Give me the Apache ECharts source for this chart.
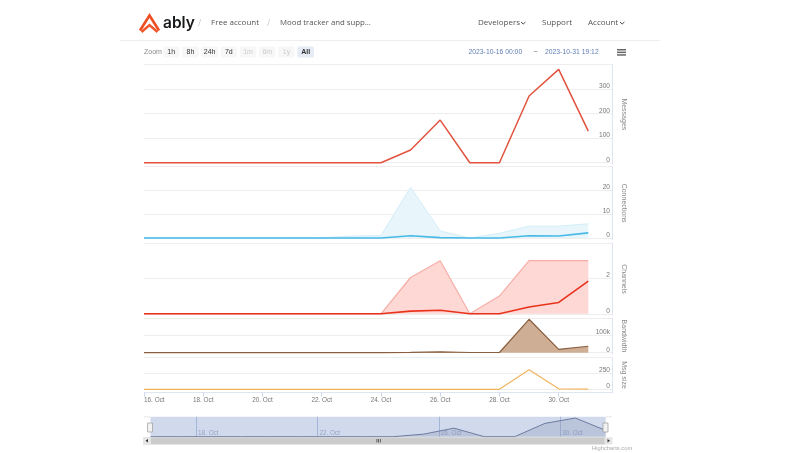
<!DOCTYPE html>
<html><head><meta charset="utf-8">
<style>html,body{margin:0;padding:0;background:#fff}#c{width:806px;height:453px}</style>
<script src="https://cdn.jsdelivr.net/npm/echarts@6/dist/echarts.min.js"></script>
</head><body><div id="c"></div>
<script>
const dayNumbers = [16,17,18,19,20,21,22,23,24,25,26,27,28,29,30,31];
const messages   = [0,0,0,0,0,0,0,0,0,52,174,0,0,272,381,129];
const connHigh   = [0,0,0,0,0,0,0.2,0.8,1.1,21.3,3,0,2,5,5,6];
const connAvg    = [0,0,0,0,0,0,0,0,0,1,0.2,0,0,1,0.9,2.2];
const chanHigh   = [0,0,0,0,0,0,0,0,0,2.05,3,0,1,3,3,3];
const chanAvg    = [0,0,0,0,0,0,0,0,0,0.15,0.2,0,0,0.38,0.64,1.85];
const bandwidth  = [0,0,0,0,0,0,0,0,500,2000,5000,1000,1000,192000,19500,37000];
const msgSize    = [0,0,0,0,0,0,0,0,0,0,0,0,0,306,8,4];
const axisDays   = [16,18,20,22,24,26,28,30];
const navDays    = [18,22,26,30];
const rangeButtons = ['1h','8h','24h','7d','1m','6m','1y','All'];
const disabledButtons = ['1m','6m','1y'];
const panelNames = ['Messages','Connections','Channels','Bandwidth','Msg size'];

const oct = (d,h=0,m=0)=> new Date(2023,9,d,h,m).getTime();
const xs = dayNumbers.map(d=>oct(d));
const pts = a => a.map((v,i)=>[xs[i],v]);
const navPts = messages.map((v,i)=>[oct(dayNumbers[i],12),v]);

const L=144,W=468,FONT='"Liberation Sans"',UI='"Open Sans"';
const panels=[
 {top:64.7,bottom:164,min:-5.3,max:400,ticks:[0,100,200,300,400],labels:[0,100,200,300]},
 {top:166.7,bottom:239.5,min:-0.6,max:30,ticks:[0,10,20,30],labels:[0,10,20]},
 {top:243,bottom:315,min:-0.07,max:4,ticks:[0,2,4],labels:[0,2]},
 {top:317.9,bottom:354,min:-7500,max:200000,ticks:[0,100000,200000],labels:[0,100000]},
 {top:357.3,bottom:392.7,min:-53,max:500,ticks:[0,250,500],labels:[0,250]}
];
const fmtY=v=>v>=1000?(v/1000)+'k':String(v);
const fmtDay=v=>new Date(v).getDate()+'. Oct';
const grid=panels.map(p=>({left:L,width:W,top:p.top,height:p.bottom-p.top}));
grid.push({left:L,width:W,top:416.7,height:20});
const xMin=oct(16),xMax=oct(31,19,12);
const xAxis=panels.map((p,i)=>{
  const last=i===panels.length-1;
  return {type:'value',gridIndex:i,min:xMin,max:xMax,
    axisLine:{show:last,onZero:false,lineStyle:{color:'#dfe6f2',width:1}},
    axisTick:{show:last,length:4,lineStyle:{color:'#ccd6eb'},customValues:axisDays.map(d=>oct(d))},
    splitLine:{show:false},
    axisLabel:{show:last,customValues:axisDays.map(d=>oct(d)),alignMinLabel:'left',margin:5,
      fontFamily:FONT,fontSize:6.4,color:'#777',formatter:fmtDay}};
});
xAxis.push({type:'value',gridIndex:5,min:oct(16,6,53),max:oct(31,17,0),
  axisLine:{show:false,onZero:false},
  axisTick:{show:false,customValues:navDays.map(d=>oct(d))},
  splitLine:{show:true,lineStyle:{color:'#c0cbe0',width:1}},
  axisLabel:{inside:true,customValues:navDays.map(d=>oct(d)),align:'left',margin:0,padding:[0,0,0,2],
    fontFamily:FONT,fontSize:6.4,color:'#a8b2c8',formatter:fmtDay}});
const yAxis=panels.map((p,i)=>({type:'value',gridIndex:i,position:'right',min:p.min,max:p.max,
  name:panelNames[i],nameLocation:'middle',nameRotate:-90,nameGap:5,
  nameTextStyle:{fontFamily:FONT,fontSize:7,color:'#8a8a8a'},
  axisLine:{show:true,onZero:false,lineStyle:{color:'#dfe6f2',width:1}},
  axisTick:{show:false,customValues:p.ticks},
  splitLine:{show:true,lineStyle:{color:'#eeeeee',width:1}},
  axisLabel:{inside:true,customValues:p.labels,margin:2,verticalAlign:'bottom',lineHeight:6,
    fontFamily:FONT,fontSize:6.6,color:'#777',formatter:fmtY}}));
yAxis.push({type:'value',gridIndex:5,min:0,max:408,show:false});

const line=(name,data,i,color,width,extra={})=>Object.assign({name,type:'line',data:pts(data),xAxisIndex:i,yAxisIndex:i,
  showSymbol:false,clip:false,silent:true,lineStyle:{color,width},itemStyle:{color}},extra);
const series=[
 line('Messages',messages,0,'#e2533f',1.5),
 line('Connections range',connHigh,1,'#d2eefa',1,{areaStyle:{color:'#e8f6fc',opacity:1}}),
 line('Connections',connAvg,1,'#47b9e6',1.6),
 line('Channels range',chanHigh,2,'#f6aea6',1.2,{areaStyle:{color:'#fdd8d4',opacity:1}}),
 line('Channels',chanAvg,2,'#e9321c',1.6),
 line('Bandwidth',bandwidth,3,'#8b5f3d',1.2,{areaStyle:{color:'#ceae95',opacity:1}}),
 line('Msg size',msgSize,4,'#f1b45c',1.2),
 {name:'Navigator',type:'line',data:navPts,xAxisIndex:5,yAxisIndex:5,showSymbol:false,silent:true,clip:false,
  lineStyle:{color:'#6d7c9e',width:1},itemStyle:{color:'#6d7c9e'},areaStyle:{color:'#8593b3',opacity:.3},
  markArea:{silent:true,itemStyle:{color:'rgba(102,133,194,0.3)'},
    data:[[{xAxis:oct(16,12)},{xAxis:oct(31,12)}]]}}
];

const txt=(text,x,y,o={})=>({type:'text',x,y,silent:true,z:10,style:Object.assign({text,fill:'#555',fontFamily:UI,fontSize:8,verticalAlign:'middle'},o)});
const rect=(x,y,w,h,fill,o={})=>({type:'rect',silent:true,z:o.z||5,shape:{x,y,width:w,height:h,r:o.r||0},style:{fill,stroke:o.stroke||null,lineWidth:o.lw||1}});
const poly=(points,stroke,lw,z=6)=>({type:'polyline',silent:true,z,shape:{points},style:{stroke,lineWidth:lw,fill:null,lineJoin:'miter'}});
const chev=(x,y)=>poly([[x,y],[x+2.2,y+2],[x+4.4,y]],'#444',1);
const g=[
 rect(120,40,540,1,'#eeeeee'),
 poly([[140,30.5],[149.5,15.5],[159,30.5]],'#ef4e23',2.6),
 poly([[141.5,32],[149.5,25],[157.5,32]],'#f0562a',2.4),
 txt('ably',163,23.5,{fontSize:15.5,fontWeight:600,fill:'#17181a',fontFamily:'Inter'}),
 txt('/',198,23,{fill:'#cccccc',fontSize:9}),
 txt('Free account',211,23),
 txt('/',267,23,{fill:'#cccccc',fontSize:9}),
 txt('Mood tracker and supp…',280,23,{fontSize:7.8}),
 txt('Developers',478,23),chev(521,22),
 txt('Support',542,23),
 txt('Account',588,23),chev(620,22),
 txt('Zoom',144,52,{fontSize:7,fill:'#8a8a8a',fontFamily:FONT}),
 txt('2023-10-16 00:00',468.5,52,{fontSize:6.8,fill:'#5f7db5',fontFamily:FONT}),
 txt('~',533.5,52,{fontSize:7,fill:'#666',fontFamily:FONT}),
 txt('2023-10-31 19:12',545,52,{fontSize:6.8,fill:'#5f7db5',fontFamily:FONT}),
 rect(617,49,9,1.5,'#666'),rect(617,51.6,9,1.5,'#666'),rect(617,54.2,9,1.5,'#666'),
 rect(144,416.5,6,.8,'#ddd'),rect(606,416.5,6,.8,'#ddd'),
 rect(147.5,423,5,9,'#f2f2f2',{stroke:'#999',lw:.7,z:7}),
 rect(603,423,5,9,'#f2f2f2',{stroke:'#999',lw:.7,z:7}),
 rect(143,437.2,462,7.3,'#cccccc'),
 rect(143,437.2,8,7.3,'#e6e6e6',{z:6}),
 rect(604.5,437.2,8,7.3,'#e6e6e6',{z:6}),
 {type:'polygon',silent:true,z:7,shape:{points:[[148,439],[148,442.5],[145.5,440.7]]},style:{fill:'#333'}},
 {type:'polygon',silent:true,z:7,shape:{points:[[607.5,439],[607.5,442.5],[610,440.7]]},style:{fill:'#333'}},
 rect(376.5,439,.8,3.5,'#444',{z:7}),rect(378.2,439,.8,3.5,'#444',{z:7}),rect(379.9,439,.8,3.5,'#444',{z:7}),
 txt('Highcharts.com',592,448,{fontSize:5.8,fill:'#aaaaaa',fontFamily:FONT})
];
rangeButtons.forEach((b,i)=>{
  const x=163+i*19.2,sel=b==='All',dis=disabledButtons.includes(b);
  g.push(rect(x,46.5,16.5,11,sel?'#e6ebf5':'#f7f7f7',{r:1.5}));
  g.push(txt(b,x+8.25,52,{fontSize:7,fontFamily:FONT,align:'center',
    fontWeight:sel?'bold':'normal',fill:dis?'#cccccc':'#333333'}));
});
const chart=echarts.init(document.getElementById('c'));
chart.setOption({animation:false,backgroundColor:'#fff',grid,xAxis,yAxis,series,graphic:g});
</script></body></html>
